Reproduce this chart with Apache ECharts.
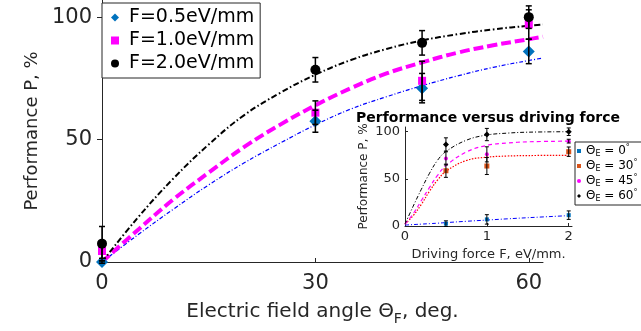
<!DOCTYPE html>
<html>
<head>
<meta charset="utf-8">
<script src="https://cdn.jsdelivr.net/npm/echarts@6/dist/echarts.min.js"></script>
<style>
  html, body { margin: 0; background: #fff; }
  #chart { width: 641px; height: 331px; }
</style>
</head>
<body>
<div id="chart"></div>
<script>
// main plot: performance vs electric field angle
const angles = [0, 30, 45, 60];
const perf05 = [0, 57.5, 71, 86];
const perf10 = [4.5, 61, 74, 97];
const perf20 = [7.5, 78.5, 89.5, 100];
const err05 = [0.5, 4.5, 6, 5];
const err10 = [3, 4.8, 8, 6];
const err20 = [7, 5, 5, 4.6];

// fitted curves
const fitAngles = [0, 5, 10, 15, 20, 25, 30, 35, 40, 45, 50, 55, 60, 62];
const fit05 = [0, 11, 21.5, 31.5, 40.5, 48.5, 56, 62.5, 67.5, 72, 76, 79.5, 82.3, 83.3];
const fit10 = [0, 13, 25.5, 36.5, 47, 56, 64, 71, 77, 81.5, 85.5, 88.5, 91, 92];
const fit20 = [0, 18, 34, 48, 60, 69, 76.5, 82.5, 87, 90.5, 93, 95, 96.5, 97];

// inset: performance vs driving force
const forces = [0.5, 1, 2];
const theta0 = [2.5, 7, 11.5];
const theta30 = [58.6, 63.6, 78.8];
const theta45 = [71.7, 76, 90];
const theta60 = [86.5, 97, 100];
const errT0 = [3, 5, 4.5];
const errT30 = [7, 9, 5];
const errT45 = [7, 8, 2];
const errT60 = [7, 6.5, 4];

const fitForces = [0, 0.1, 0.2, 0.3, 0.4, 0.5, 0.75, 1, 1.25, 1.5, 2];
const fitT0 = [1, 1.5, 2, 2.5, 3, 3.6, 5, 6.3, 7.6, 8.8, 11];
const fitT30 = [2, 11, 23, 37, 49, 58, 69.5, 73, 74.2, 74.7, 75];
const fitT45 = [2, 13, 27, 41, 54, 64, 78.5, 85.5, 88, 89.3, 90];
const fitT60 = [2, 21, 39, 56, 70, 79, 91, 96.5, 98.5, 99.5, 100];

const names = ['F=0.5eV/mm', 'F=1.0eV/mm', 'F=2.0eV/mm'];
const insetNames = ['t0', 't30', 't45', 't60'];
const insetLabels = { t0: '0', t30: '30', t45: '45', t60: '60' };

const FONT = 'DejaVu Sans';
const AX = '#262626';

const pairs = (xs, ys) => xs.map((x, i) => [x, ys[i]]);
const bars = (xs, ys, es) => xs.map((x, i) => [x, ys[i] - es[i], ys[i] + es[i]]);

const errRender = (cap, width) => (params, api) => {
  const x = api.value(0);
  const top = api.coord([x, api.value(2)]);
  const bot = api.coord([x, api.value(1)]);
  const style = { stroke: '#000', lineWidth: width, fill: null };
  return {
    type: 'group',
    children: [
      { type: 'line', shape: { x1: top[0], y1: top[1], x2: bot[0], y2: bot[1] }, style },
      { type: 'line', shape: { x1: top[0] - cap, y1: top[1], x2: top[0] + cap, y2: top[1] }, style },
      { type: 'line', shape: { x1: bot[0] - cap, y1: bot[1], x2: bot[0] + cap, y2: bot[1] }, style }
    ]
  };
};

const fitLine = (name, xs, ys, color, width, dash, idx) => ({
  name, type: 'line', xAxisIndex: idx, yAxisIndex: idx,
  data: pairs(xs, ys), smooth: 0.4, symbol: 'none', silent: true,
  lineStyle: { color, width, type: dash }, z: 2
});

const dots = (name, xs, ys, color, symbol, size, idx) => ({
  name, type: 'scatter', xAxisIndex: idx, yAxisIndex: idx,
  data: pairs(xs, ys), symbol, symbolSize: size,
  itemStyle: { color, opacity: 1 }, z: 3
});

const errSeries = (xs, ys, es, idx, cap, width) => ({
  type: 'custom', xAxisIndex: idx, yAxisIndex: idx,
  data: bars(xs, ys, es), encode: { x: 0, y: [1, 2] },
  renderItem: errRender(cap, width), z: 4, silent: true
});

const axisBase = (fontSize) => ({
  axisLine: { onZero: false, lineStyle: { color: AX, width: 1 } },
  splitLine: { show: false },
  axisLabel: { fontSize, color: AX, fontFamily: FONT }
});

const chart = echarts.init(document.getElementById('chart'));
chart.setOption({
  animation: false,
  textStyle: { fontFamily: FONT },
  grid: [
    { left: 102, top: 0, width: 441, height: 264 },
    { left: 405, top: 127, width: 167, height: 99 }
  ],
  xAxis: [
    {
      gridIndex: 0, type: 'value', min: 0, max: 62,
      ...axisBase(21),
      axisTick: { inside: true, length: 4, customValues: [0, 30, 60], lineStyle: { color: AX } },
      axisLabel: { fontSize: 21, color: AX, margin: 11, customValues: [0, 30, 60] },
      name: '{t|Electric field angle Θ}{s|F}{t|, deg.}',
      nameLocation: 'middle', nameGap: 36,
      nameTextStyle: {
        rich: {
          t: { fontSize: 20, color: AX, fontFamily: FONT },
          s: { fontSize: 14, color: AX, fontFamily: FONT, padding: [14, 0, 0, 0] }
        }
      }
    },
    {
      gridIndex: 1, type: 'value', min: 0, max: 2.04,
      ...axisBase(13),
      axisTick: { inside: true, length: 3, customValues: [0, 1, 2], lineStyle: { color: AX } },
      axisLabel: { fontSize: 13, color: AX, margin: 4, customValues: [0, 1, 2] },
      name: 'Driving force F, eV/mm.', nameLocation: 'middle', nameGap: 22,
      nameTextStyle: { fontSize: 13, color: AX }
    }
  ],
  yAxis: [
    {
      gridIndex: 0, type: 'value', min: 0, max: 107,
      ...axisBase(21),
      axisTick: { inside: false, length: 5, customValues: [0, 50, 100], lineStyle: { color: AX } },
      axisLabel: { fontSize: 21, color: AX, margin: 10, customValues: [0, 50, 100] },
      name: 'Performance P, %', nameLocation: 'middle', nameGap: 60,
      nameTextStyle: { fontSize: 18, color: AX }
    },
    {
      gridIndex: 1, type: 'value', min: 0, max: 105,
      ...axisBase(13),
      axisTick: { inside: true, length: 3, customValues: [0, 50, 100], lineStyle: { color: AX } },
      axisLabel: { fontSize: 13, color: AX, margin: 5, customValues: [0, 50, 100] },
      name: 'Performance P, %', nameLocation: 'middle', nameGap: 35,
      nameTextStyle: { fontSize: 12, color: AX }
    }
  ],
  legend: [
    {
      data: names, orient: 'vertical', left: 102, top: 3,
      padding: [5, 6, 5, 9], itemGap: 4, itemWidth: 8, itemHeight: 8,
      borderColor: AX, borderWidth: 1, backgroundColor: '#fff', borderRadius: 0,
      formatter: (n) => '{a|' + n + '}',
      textStyle: {
        color: '#000',
        rich: { a: { fontSize: 19, color: '#000', fontFamily: FONT, padding: [0, 0, 0, 5] } }
      }
    },
    {
      data: insetNames, orient: 'vertical', left: 575, top: 142,
      padding: [2, 6, 2, 2], itemGap: 1, itemWidth: 4, itemHeight: 4,
      borderColor: AX, borderWidth: 1, backgroundColor: '#fff', borderRadius: 0,
      formatter: (n) => '{t|Θ}{s|E}{t| = ' + insetLabels[n] + '}{u|°}',
      textStyle: {
        color: '#000',
        rich: {
          t: { fontSize: 12, color: '#000', fontFamily: FONT },
          s: { fontSize: 8, color: '#000', fontFamily: FONT, padding: [6, 0, 0, 0] },
          u: { fontSize: 8, color: '#000', fontFamily: FONT, padding: [0, 0, 6, 0] }
        }
      }
    }
  ],
  graphic: [
    {
      type: 'text', x: 488, y: 118, z: 10,
      style: {
        text: 'Performance versus driving force',
        font: 'bold 14px "DejaVu Sans"', fill: '#000',
        align: 'center', verticalAlign: 'middle',
        textAlign: 'center', textVerticalAlign: 'middle'
      }
    }
  ],
  series: [
    fitLine('fit05', fitAngles, fit05, '#0000ff', 1.2, [4, 2, 1, 2], 0),
    fitLine('fit10', fitAngles, fit10, '#ff00ff', 4, [10, 4], 0),
    fitLine('fit20', fitAngles, fit20, '#000000', 2, [6, 2.5, 1.5, 2.5], 0),
    dots(names[0], angles, perf05, '#0072bd', 'diamond', 12, 0),
    dots(names[1], angles, perf10, '#ff00ff', 'rect', 8, 0),
    dots(names[2], angles, perf20, '#000000', 'circle', 10, 0),
    errSeries(angles, perf05, err05, 0, 3, 1.5),
    errSeries(angles, perf10, err10, 0, 3, 1.5),
    errSeries(angles, perf20, err20, 0, 3, 1.5),

    fitLine('fitT0', fitForces, fitT0, '#0000ff', 1, [4, 2, 1, 2], 1),
    fitLine('fitT30', fitForces, fitT30, '#ff0000', 1.2, [1.5, 1.5], 1),
    fitLine('fitT45', fitForces, fitT45, '#ff00ff', 1.2, [4, 3], 1),
    fitLine('fitT60', fitForces, fitT60, '#000000', 1, [4, 2, 1, 2], 1),
    dots('t0', forces, theta0, '#0072bd', 'rect', 4, 1),
    dots('t30', forces, theta30, '#d95319', 'rect', 5, 1),
    dots('t45', forces, theta45, '#ff00ff', 'circle', 4, 1),
    dots('t60', forces, theta60, '#000000', 'diamond', 6, 1),
    errSeries(forces, theta0, errT0, 1, 2, 1),
    errSeries(forces, theta30, errT30, 1, 2, 1),
    errSeries(forces, theta45, errT45, 1, 2, 1),
    errSeries(forces, theta60, errT60, 1, 2, 1)
  ]
});
</script>
</body>
</html>
